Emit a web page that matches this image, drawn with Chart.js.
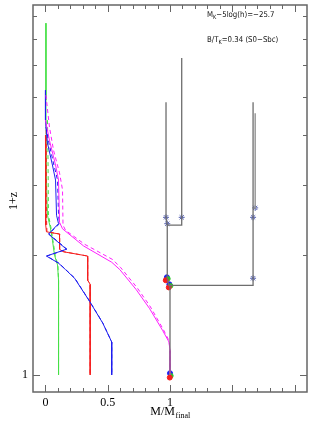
<!DOCTYPE html>
<html><head><meta charset="utf-8">
<script src="https://cdn.jsdelivr.net/npm/chart.js@4"></script>
<style>html,body{margin:0;padding:0;background:#fff}canvas{display:block}</style>
</head><body>
<canvas id="c" width="314" height="424"></canvas>
<script>
// ---- data (x = M/M_final, y = 1+z) ----
const greenSolidX = [0.004,0.004,0.008,0.016,0.040,0.056,0.073,0.097,0.105,0.105];
const greenSolidY = [7.66,4.91,3.09,2.52,2.34,2.18,2.00,1.89,1.73,1.00];
const greenDashX  = [0.016,0.020,0.022,0.024,0.045,0.060,0.078,0.100,0.105,0.105];
const greenDashY  = [4.37,3.61,3.09,2.52,2.34,2.18,2.00,1.89,1.73,1.00];
const redSolidX = [0.000,0.000,0.004,0.008,0.113,0.113,0.145,0.339,0.339,0.359,0.359];
const redSolidY = [4.01,2.75,2.38,2.29,2.26,2.07,2.04,1.99,1.73,1.69,1.00];
const redDashX  = [0.006,0.006,0.010,0.012,0.115,0.115,0.148,0.339,0.339,0.359,0.359];
const redDashY  = [4.13,2.75,2.38,2.29,2.26,2.07,2.04,1.99,1.73,1.69,1.00];
const blueSolidX = [0.000,0.000,0.016,0.056,0.081,0.089,0.105,0.024,0.169,0.008,0.105,0.161,0.234,0.355,0.460,0.532,0.532];
const blueSolidY = [5.20,4.37,3.83,3.37,3.09,2.52,2.40,2.26,2.07,1.99,1.91,1.84,1.75,1.53,1.35,1.21,1.00];
const blueDashX = [0.004,0.028,0.068,0.097,0.105,0.113,0.028,0.173,0.010,0.108,0.163,0.236,0.356,0.461,0.532,0.532];
const blueDashY = [4.20,3.83,3.37,3.09,2.52,2.40,2.26,2.07,1.99,1.91,1.84,1.75,1.53,1.35,1.21,1.00];
const magDashX = [0.004,0.032,0.065,0.113,0.137,0.141,0.161,0.315,0.540,0.605,0.734,0.839,0.944,0.992,1.000,1.000];
const magDashY = [5.05,4.20,3.67,3.22,2.92,2.38,2.31,2.13,1.95,1.86,1.66,1.49,1.305,1.22,1.155,1.00];
const magSolidX = [0.000,0.032,0.081,0.105,0.113,0.137,0.306,0.532,0.597,0.728,0.835,0.940,0.992,1.000,1.000];
const magSolidY = [4.37,3.89,3.37,3.09,2.42,2.33,2.11,1.92,1.84,1.64,1.47,1.295,1.21,1.15,1.00];

// merger tree branches
const treeMainX  = [1.000,1.000,0.990,0.978,0.978,0.968,0.968];
const treeMainY  = [1.00,1.68,1.68,1.75,2.38,2.49,4.85];
const treeRightX = [1.000,1.667,1.667];
const treeRightY = [1.68,1.68,4.85];
const treeRight2X = [1.667,1.684,1.684];
const treeRight2Y = [2.63,2.63,4.55];
const treeLeftX  = [0.978,1.094,1.094];
const treeLeftY  = [2.38,2.38,6.26];

// progenitor markers
const crossX = [0.968,0.978,1.094,1.667,1.684,1.667];
const crossY = [2.49,2.40,2.49,2.49,2.63,1.75];
const blueDotX = [0.975,0.995,1.000];
const blueDotY = [1.76,1.69,1.01];
const redDotX = [0.966,0.990,0.998];
const redDotY = [1.73,1.66,0.985];
const greenDotX = [0.984,1.006,1.008];
const greenDotY = [1.745,1.675,0.995];

// axes
const xTickVals = [];
for (let i = -1; i <= 21; i++) xTickVals.push(Math.round(i) / 10);
const xMajor = [0, 0.5, 1, 1.5, 2];
const xLabels = [0, 0.5, 1];
const yTickVals = [1,2,3,4,5,6,7,8];
const yLabels = [1];

const zip = (xs, ys) => xs.map((x, i) => ({x, y: ys[i]}));
const line = (xs, ys, color, dash, w) => ({
  data: zip(xs, ys), showLine: true, borderColor: color, backgroundColor: color,
  borderWidth: w || 1, borderDash: dash || [], pointRadius: 0, tension: 0, fill: false
});
const dots = (xs, ys, color, style, r) => ({
  data: zip(xs, ys), showLine: false, pointRadius: r, pointStyle: style,
  borderColor: color, backgroundColor: color, borderWidth: 1
});

const GREEN = 'rgb(70,225,70)', RED = 'rgb(245,30,30)', BLUE = 'rgb(30,30,240)', MAG = 'rgb(255,30,255)';
const TREE = '#6e6e6e';

const datasets = [
  line(treeMainX, treeMainY, TREE, [], 1.3),
  line(treeRightX, treeRightY, TREE, [], 1.3),
  line(treeRight2X, treeRight2Y, '#9a9a9a', [], 1.5),
  line(treeLeftX, treeLeftY, TREE, [], 1.3),
  line(magDashX, magDashY, MAG, [4,3]),
  line(magSolidX, magSolidY, MAG),
  line(blueDashX, blueDashY, BLUE, [4,3]),
  line(blueSolidX, blueSolidY, BLUE),
  line(redDashX, redDashY, RED, [4,3]),
  line(redSolidX, redSolidY, RED),
  line(greenDashX, greenDashY, GREEN, [4,3]),
  line(greenSolidX, greenSolidY, GREEN),
  dots(crossX, crossY, '#5560b0', 'star', 3),
  dots(redDotX, redDotY, RED, 'circle', 2.5),
  dots(greenDotX, greenDotY, 'rgb(40,200,40)', 'circle', 2.2),
  dots(blueDotX, blueDotY, BLUE, 'circle', 2.5)
];

const decor = {
  id: 'decor',
  afterDraw(chart) {
    const {ctx, chartArea: a, scales: {x, y}} = chart;
    ctx.save();
    ctx.strokeStyle = '#666';
    ctx.lineWidth = 1.5;
    ctx.strokeRect(a.left, a.top, a.right - a.left, a.bottom - a.top);
    ctx.lineWidth = 1;
    ctx.beginPath();
    xTickVals.forEach(v => {
      if (v <= x.min || v >= x.max) return;
      const px = Math.round(x.getPixelForValue(v)) + 0.5;
      const L = xMajor.some(m => Math.abs(m - v) < 1e-6) ? 7 : 4;
      ctx.moveTo(px, a.bottom); ctx.lineTo(px, a.bottom - L);
      ctx.moveTo(px, a.top); ctx.lineTo(px, a.top + L);
    });
    yTickVals.forEach(v => {
      const py = Math.round(y.getPixelForValue(v)) + 0.5;
      const L = v === 1 ? 7 : 4;
      ctx.moveTo(a.left, py); ctx.lineTo(a.left + L, py);
      ctx.moveTo(a.right, py); ctx.lineTo(a.right - L, py);
    });
    ctx.stroke();

    // axis titles
    ctx.fillStyle = '#000';
    ctx.textBaseline = 'alphabetic';
    const serif = '"Liberation Serif", "DejaVu Serif", serif';
    ctx.font = '12px ' + serif;
    const t1 = 'M/M', t2 = 'final';
    const w1 = ctx.measureText(t1).width;
    ctx.font = '8px ' + serif;
    const w2 = ctx.measureText(t2).width;
    const cx = (a.left + a.right) / 2;
    const sx = cx - (w1 + w2) / 2;
    ctx.font = '12px ' + serif;
    ctx.fillText(t1, sx, 415);
    ctx.font = '8px ' + serif;
    ctx.fillText(t2, sx + w1 + 0.5, 418);

    ctx.save();
    ctx.translate(17, 201);
    ctx.rotate(-Math.PI / 2);
    ctx.font = '12px ' + serif;
    ctx.textAlign = 'center';
    ctx.fillText('1+z', 0, 0);
    ctx.restore();

    // annotations
    const sans = '"DejaVu Sans", sans-serif';
    ctx.fillStyle = '#111';
    const seg = (parts, x0, y0) => {
      ctx.save();
      ctx.translate(x0, y0);
      ctx.scale(1, 1.15);
      let xx = 0;
      parts.forEach(([t, sub]) => {
        ctx.font = (sub ? '5px ' : '7px ') + sans;
        ctx.fillText(t, xx, sub ? 1.8 : 0);
        xx += ctx.measureText(t).width;
      });
      ctx.restore();
    };
    seg([['M', 0], ['K', 1], ['\u22125log(h)=\u221225.7', 0]], 207, 17);
    seg([['B/T', 0], ['K', 1], ['=0.34 (S0\u2212Sbc)', 0]], 207, 42);
    ctx.restore();
  }
};

new Chart(document.getElementById('c'), {
  type: 'scatter',
  data: { datasets },
  options: {
    responsive: false,
    animation: false,
    devicePixelRatio: 1,
    layout: { padding: { top: 5, right: 7, left: 0, bottom: 0 } },
    plugins: { legend: { display: false }, tooltip: { enabled: false } },
    scales: {
      x: {
        type: 'linear', min: -0.1, max: 2.1, position: 'bottom',
        grid: { display: false, drawTicks: false }, border: { display: false },
        afterBuildTicks: s => { s.ticks = xTickVals.map(v => ({ value: v })); },
        afterFit: s => { s.height = 32; s.paddingLeft = 0; s.paddingRight = 0; },
        ticks: {
          autoSkip: false, maxRotation: 0, padding: 4, color: '#000',
          font: { family: '"Liberation Serif", "DejaVu Serif", serif', size: 12 },
          callback: v => xLabels.some(l => Math.abs(l - v) < 1e-6) ? String(v) : ''
        }
      },
      y: {
        type: 'logarithmic', min: 0.906, max: 8.51, position: 'left',
        grid: { display: false, drawTicks: false }, border: { display: false },
        afterBuildTicks: s => { s.ticks = yTickVals.map(v => ({ value: v })); },
        afterFit: s => { s.width = 33; s.paddingTop = 0; s.paddingBottom = 0; },
        ticks: {
          autoSkip: false, padding: 5, color: '#000',
          font: { family: '"Liberation Serif", "DejaVu Serif", serif', size: 12 },
          callback: v => yLabels.includes(v) ? String(v) : ''
        }
      }
    }
  },
  plugins: [decor]
});
</script>
</body></html>
